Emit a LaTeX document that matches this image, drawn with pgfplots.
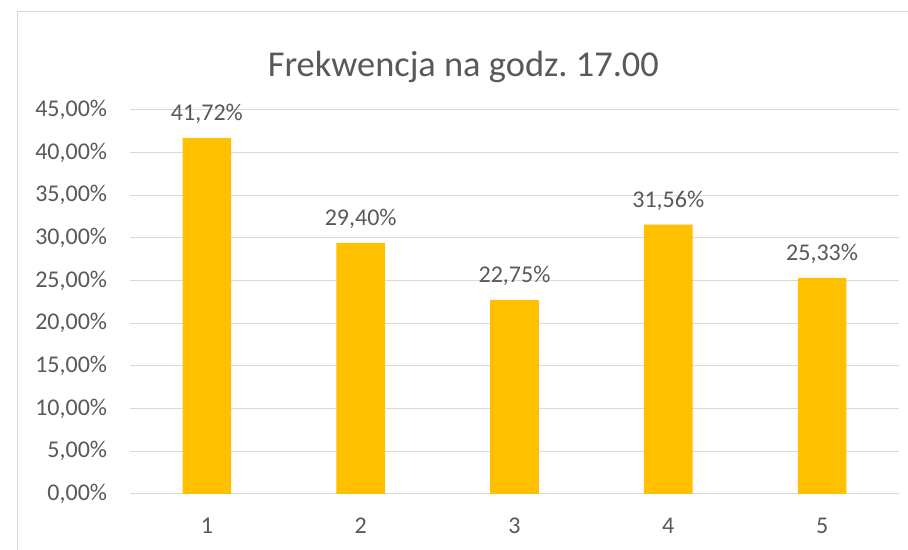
\documentclass[border=0pt]{standalone}
\usepackage{pgfplots}
\pgfplotsset{compat=1.18}
\usepackage{fontspec}
\setmainfont{Carlito}
\frenchspacing
\definecolor{barc}{HTML}{FFC000}
\definecolor{txt}{HTML}{595959}
\definecolor{gridc}{HTML}{D9D9D9}
\begin{document}
\begin{tikzpicture}[x=1pt,y=1pt]
\useasboundingbox (0,0) rectangle (681,412.5);
\fill[white] (0,0) rectangle (681,412.5);
\draw[gridc, line width=0.75pt] (12.75,-5) -- (12.75,403.5) -- (690,403.5);
\node[anchor=base, inner sep=0pt, text=txt, font=\fontsize{27.3}{32}\selectfont] at (347.5,355) {Frekwencja na godz. 17.00};
\begin{axis}[
  at={(97.5pt,42pt)}, anchor=south west,
  scale only axis, width=576.75pt, height=288pt,
  xmin=0.5, xmax=5.5, ymin=0, ymax=45,
  axis line style={draw=none},
  ytick={0,5,...,45},
  yticklabels={{0,00\%},{5,00\%},{10,00\%},{15,00\%},{20,00\%},{25,00\%},{30,00\%},{35,00\%},{40,00\%},{45,00\%}},
  xtick={1,2,3,4,5},
  xticklabels={1,2,3,4,5},
  major tick length=0pt,
  tick style={draw=none},
  xmajorgrids=false,
  ymajorgrids=true, 
  major grid style={draw=gridc, line width=0.75pt},
  tick label style={text=txt, font=\fontsize{18}{21}\selectfont},
  yticklabel style={anchor=east, inner sep=0pt, xshift=-17pt},
  xticklabel style={anchor=base, inner sep=0pt, yshift=-29.5pt},
  ybar, bar width=36.5pt,
  point meta=explicit symbolic,
  nodes near coords,
  every node near coord/.append style={anchor=base, inner sep=0pt, yshift=13pt, text=txt, font=\fontsize{18}{21}\selectfont},
  clip=false,
]
\addplot[fill=barc, draw=none] coordinates {
 (1,41.72) [41,72\%]
 (2,29.40) [29,40\%]
 (3,22.75) [22,75\%]
 (4,31.56) [31,56\%]
 (5,25.33) [25,33\%]
};
\end{axis}
\end{tikzpicture}
\end{document}
